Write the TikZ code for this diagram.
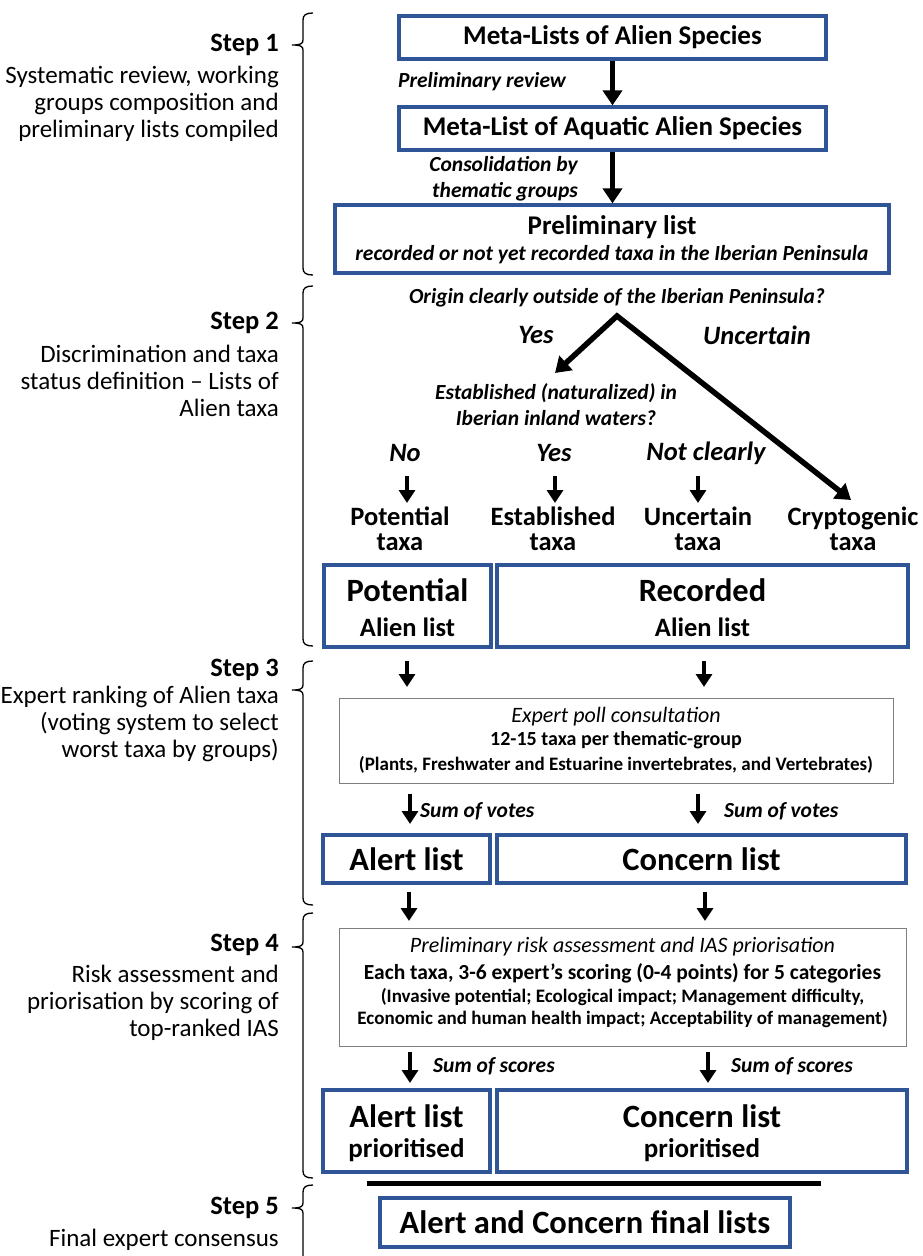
\documentclass[tikz,border=0pt]{standalone}
\usepackage{fontspec}
\setmainfont{Carlito}
\usetikzlibrary{arrows.meta}
\definecolor{boxblue}{HTML}{2F5597}
\definecolor{graybd}{HTML}{7F7F7F}
\newcommand{\fs}[2]{\fontsize{#1}{#2}\selectfont}
\newcommand{\stepbrace}[3]{%
  \draw[bracepath] (313,#1) .. controls (306,#1) and (303,#1+2) .. (303,#1+7)
    -- (303,#2-5) .. controls (303,#2-1) and (300,#2) .. (292,#2)
    .. controls (300,#2) and (303,#2+1) .. (303,#2+5)
    -- (303,#3-7) .. controls (303,#3-2) and (306,#3) .. (313,#3);}
\tikzset{
  steplbl/.style={anchor=east, inner sep=0pt, font=\fs{26.5}{30}\bfseries},
  stepdesc/.style={anchor=east, inner sep=0pt, align=right, font=\fs{25}{27}},
  blabel/.style={inner sep=0pt, font=\fs{21.5}{26}\bfseries\itshape},
  bigq/.style={inner sep=0pt, font=\fs{26.5}{30}\bfseries\itshape},
  taxa/.style={inner sep=0pt, align=center, font=\fs{26.5}{25}\bfseries},
  bluebox/.style={draw=boxblue, line width=3.2pt, inner sep=0pt},
  graybox/.style={draw=graybd, line width=1pt, inner sep=0pt},
  btitle/.style={inner sep=0pt, font=\fs{27}{30}\bfseries},
  bigtitle/.style={inner sep=0pt, font=\fs{32.5}{36}\bfseries},
  arr/.style={line width=4.6pt, -{Triangle[width=16pt,length=13pt]}},
  bigarr/.style={line width=5.5pt, -{Triangle[width=19pt,length=15pt]}},
  bracepath/.style={line width=1.3pt, black},
}
\begin{document}
\begin{tikzpicture}[x=1pt,y=-1pt]
\useasboundingbox (0,0) rectangle (922,1256);
\fill[white] (0,0) rectangle (922,1256);

% ---- step labels ----
\node[steplbl] (s1) at (279,45) {Step 1};
\node[stepdesc] (d1) at (279,104) {Systematic review, working\\groups composition and\\preliminary lists compiled};
\node[steplbl] (s2) at (279,323) {Step 2};
\node[stepdesc] (d2) at (279,381) {Discrimination and taxa\\status definition – Lists of\\Alien taxa};
\node[steplbl] (s3) at (279,670) {Step 3};
\node[stepdesc] (d3) at (279,724) {Expert ranking of Alien taxa\\(voting system to select\\worst taxa by groups)};
\node[steplbl] (s4) at (279,945) {Step 4};
\node[stepdesc] (d4) at (279,1003) {Risk assessment and\\priorisation by scoring of\\top-ranked IAS};
\node[steplbl] (s5) at (279,1208) {Step 5};
\node[stepdesc] (d5) at (279,1240) {Final expert consensus};

% ---- braces ----
\stepbrace{13}{45}{275}
\stepbrace{286}{323}{646}
\stepbrace{661}{690}{905}
\stepbrace{913}{947}{1178}
\stepbrace{1185}{1208}{1275}

% ---- step 1 ----
\node[bluebox, minimum width=427pt, minimum height=43pt, btitle] (m1) at (612.5,37.5) {Meta-Lists of Alien Species};
\node[bluebox, minimum width=427pt, minimum height=43pt, btitle] (m2) at (612.5,128.5) {Meta-List of Aquatic Alien Species};
\node[bluebox, minimum width=554pt, minimum height=68pt] (pl) at (612,239) {};
\node[btitle] (plt) at (612,227) {Preliminary list};
\node[blabel] (pls) at (612,255) {recorded or not yet recorded taxa in the Iberian Peninsula};
\draw[bigarr] (m1) -- (m2);
\draw[bigarr] (m2.south) -- (m2.south |- pl.north);
\node[blabel] (lr) at (482,82) {Preliminary review};
\node[blabel, align=right, anchor=east] (lc) at (578,179) {Consolidation by\\thematic groups};

% ---- step 2 ----
\node[blabel] (q1) at (617,298) {Origin clearly outside of the Iberian Peninsula?};
\coordinate (apex) at (617,316);
\coordinate (yesend) at (555,373);
\coordinate (uncend) at (851,500);
\draw[line width=5.5pt, line join=miter, {Triangle[width=19pt,length=15pt]}-{Triangle[width=19pt,length=15pt]}] (yesend) -- (apex) -- (uncend);
\node[bigq] (yes1) at (536,335) {Yes};
\node[bigq] (unc) at (757,335) {Uncertain};
\node[blabel, align=center] (q2) at (556,405) {Established (naturalized) in\\Iberian inland waters?};
\node[bigq] (no) at (405,453) {No};
\node[bigq] (yes2) at (554,453) {Yes};
\node[bigq] (nc) at (706,453) {Not clearly};
\coordinate (n1a) at (407,476); \coordinate (n1b) at (407,503);
\coordinate (n2a) at (555,476); \coordinate (n2b) at (555,503);
\coordinate (n3a) at (698,476); \coordinate (n3b) at (698,503);
\draw[arr] (n1a) -- (n1b);
\draw[arr] (n2a) -- (n2b);
\draw[arr] (n3a) -- (n3b);
\node[taxa] (pt) at (400,529) {Potential\\taxa};
\node[taxa] (et) at (553,529) {Established\\taxa};
\node[taxa] (ut) at (698,529) {Uncertain\\taxa};
\node[taxa] (ct) at (853,529) {Cryptogenic\\taxa};
\node[bluebox, minimum width=167pt, minimum height=82pt] (pb) at (407.5,606) {};
\node[bigtitle] (pbt) at (407.5,590) {Potential};
\node[btitle, font=\fs{26.5}{30}\bfseries] (pbs) at (407.5,627) {Alien list};
\node[bluebox, minimum width=411pt, minimum height=82pt] (rb) at (702.5,606) {};
\node[bigtitle] (rbt) at (702.5,590) {Recorded};
\node[btitle, font=\fs{26.5}{30}\bfseries] (rbs) at (702.5,627) {Alien list};

% ---- step 3 ----
\coordinate (t1a) at (407,661); \coordinate (t1b) at (407,687);
\coordinate (t2a) at (704,661); \coordinate (t2b) at (704,687);
\draw[arr] (t1a) -- (t1b);
\draw[arr] (t2a) -- (t2b);
\node[graybox, minimum width=554pt, minimum height=85pt] (poll) at (616,740.5) {};
\node[inner sep=0pt, font=\fs{22}{25}\itshape] (p1) at (616,717) {Expert poll consultation};
\node[inner sep=0pt, font=\fs{20}{24}\bfseries] (p2) at (616,740) {12-15 taxa per thematic-group};
\node[inner sep=0pt, font=\fs{19}{22}\bfseries] (p3) at (616,765) {(Plants, Freshwater and Estuarine invertebrates, and Vertebrates)};
\coordinate (v1a) at (410,794); \coordinate (v1b) at (410,824);
\coordinate (v2a) at (698,794); \coordinate (v2b) at (698,824);
\draw[arr] (v1a) -- (v1b);
\draw[arr] (v2a) -- (v2b);
\node[blabel, anchor=west] (sv1) at (420,811) {Sum of votes};
\node[blabel, anchor=west] (sv2) at (724,811) {Sum of votes};
\node[bluebox, minimum width=167pt, minimum height=48pt, bigtitle] (al) at (406.5,859) {Alert list};
\node[bluebox, minimum width=409pt, minimum height=48pt, bigtitle] (cl) at (701.5,859) {Concern list};
\coordinate (w1a) at (409,892); \coordinate (w1b) at (409,921);
\coordinate (w2a) at (705,892); \coordinate (w2b) at (705,921);
\draw[arr] (w1a) -- (w1b);
\draw[arr] (w2a) -- (w2b);

% ---- step 4 ----
\node[graybox, minimum width=567pt, minimum height=118pt] (risk) at (622.5,987) {};
\node[inner sep=0pt, font=\fs{22}{25}\itshape] (r1) at (622.5,947) {Preliminary risk assessment and IAS priorisation};
\node[inner sep=0pt, font=\fs{21.5}{24}\bfseries] (r2) at (622.5,973) {Each taxa, 3-6 expert’s scoring (0-4 points) for 5 categories};
\node[inner sep=0pt, font=\fs{19}{22}\bfseries] (r3) at (622.5,997) {(Invasive potential; Ecological impact; Management difficulty,};
\node[inner sep=0pt, font=\fs{19}{22}\bfseries] (r4) at (622.5,1019) {Economic and human health impact; Acceptability of management)};
\coordinate (x1a) at (410,1052); \coordinate (x1b) at (410,1083);
\coordinate (x2a) at (708,1052); \coordinate (x2b) at (708,1083);
\draw[arr] (x1a) -- (x1b);
\draw[arr] (x2a) -- (x2b);
\node[blabel, anchor=west] (ss1) at (433,1066) {Sum of scores};
\node[blabel, anchor=west] (ss2) at (731,1066) {Sum of scores};
\node[bluebox, minimum width=167pt, minimum height=82pt] (ap) at (406.5,1131) {};
\node[bigtitle] (apt) at (406.5,1116) {Alert list};
\node[btitle] (aps) at (406.5,1150) {prioritised};
\node[bluebox, minimum width=410pt, minimum height=82pt] (cp) at (702,1131) {};
\node[bigtitle] (cpt) at (702,1116) {Concern list};
\node[btitle] (cps) at (702,1150) {prioritised};

% ---- step 5 ----
\coordinate (sepL) at (367,1183); \coordinate (sepR) at (821,1183);
\draw[line width=5pt] (sepL) -- (sepR);
\node[bluebox, minimum width=410pt, minimum height=49pt, bigtitle] (fin) at (585,1222.5) {Alert and Concern final lists};
\end{tikzpicture}
\end{document}
